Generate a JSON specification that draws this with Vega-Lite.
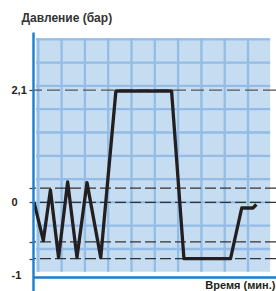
{
  "$schema": "https://vega.github.io/schema/vega-lite/v6.json",
  "width": 243,
  "height": 259,
  "autosize": {"type": "none"},
  "padding": {"left": 33, "top": 32, "right": 0, "bottom": 0},
  "background": "white",
  "config": {"view": {"stroke": null}},
  "layer": [
    {
      "data": {"values": [{"area": "grid"}]},
      "mark": {"type": "rect", "color": "#c6dcf1"},
      "encoding": {
        "x": {"datum": -0.1, "type": "quantitative", "title": "Время (мин.)"},
        "x2": {"datum": 9.95},
        "y": {"datum": 0.02, "type": "quantitative", "title": "Давление (бар)"},
        "y2": {"datum": 10.05}
      }
    },
    {
      "data": {"values": [{"k": 0}, {"k": 1}, {"k": 2}, {"k": 3}, {"k": 4}, {"k": 5}, {"k": 6}, {"k": 7}, {"k": 8}, {"k": 9}]},
      "mark": {"type": "rule", "color": "#93bde6", "strokeWidth": 2.3},
      "encoding": {
        "x": {"field": "k", "type": "quantitative", "title": "Время (мин.)"},
        "y": {"datum": 0.02, "type": "quantitative", "title": "Давление (бар)"},
        "y2": {"datum": 10.05}
      }
    },
    {
      "data": {"values": [{"k": 1}, {"k": 2}, {"k": 3}, {"k": 4}, {"k": 5}, {"k": 6}, {"k": 7}, {"k": 8}, {"k": 9}, {"k": 10}]},
      "mark": {"type": "rule", "color": "#93bde6", "strokeWidth": 2.3},
      "encoding": {
        "y": {"field": "k", "type": "quantitative", "title": "Давление (бар)"},
        "x": {"datum": -0.1, "type": "quantitative", "title": "Время (мин.)"},
        "x2": {"datum": 9.95}
      }
    },
    {
      "data": {"values": [{"lvl": 7.82}]},
      "mark": {"type": "rule", "color": "#555555", "strokeWidth": 1.3, "strokeDash": [13, 5]},
      "encoding": {
        "y": {"field": "lvl", "type": "quantitative", "title": "Давление (бар)"}
      }
    },
    {
      "data": {"values": [{"lvl": 3.61}, {"lvl": 3.0}, {"lvl": 1.31}, {"lvl": 0.59}]},
      "mark": {"type": "rule", "color": "#333333", "strokeWidth": 1.3, "strokeDash": [11, 4]},
      "encoding": {
        "y": {"field": "lvl", "type": "quantitative", "title": "Давление (бар)"}
      }
    },
    {
      "data": {"values": [
        {"t": -0.18, "p": 3.0},
        {"t": 0.215, "p": 1.36},
        {"t": 0.52, "p": 3.53},
        {"t": 0.87, "p": 0.63},
        {"t": 1.26, "p": 3.88},
        {"t": 1.66, "p": 0.63},
        {"t": 2.09, "p": 3.85},
        {"t": 2.68, "p": 0.63},
        {"t": 3.33, "p": 7.78},
        {"t": 5.72, "p": 7.78},
        {"t": 6.25, "p": 0.59},
        {"t": 8.25, "p": 0.59},
        {"t": 8.73, "p": 2.76},
        {"t": 9.21, "p": 2.76},
        {"t": 9.36, "p": 2.91}
      ]},
      "mark": {"type": "line", "color": "#231f20", "strokeWidth": 3.3, "strokeJoin": "round"},
      "encoding": {
        "x": {
          "field": "t", "type": "quantitative", "title": "Время (мин.)",
          "scale": {"domain": [-0.2275, 10.2017], "nice": false, "zero": false},
          "axis": {
            "orient": "bottom", "offset": -14, "zindex": 1,
            "domainColor": "#1b7fcf", "domainWidth": 2.6,
            "ticks": false, "labels": false, "grid": false,
            "titleX": 242, "titleY": 11, "titleAlign": "right", "titleBaseline": "alphabetic",
            "titleFont": "Liberation Sans", "titleFontSize": 11, "titleFontWeight": "bold", "titleColor": "#231f20"
          }
        },
        "y": {
          "field": "p", "type": "quantitative", "title": "Давление (бар)",
          "scale": {"domain": [-0.8026, 10.313], "nice": false, "zero": false},
          "axis": {
            "orient": "left", "zindex": 1,
            "values": [7.82, 3.61, 3.0, 1.31, 0.59, -0.15],
            "labelExpr": "datum.value > 7 ? '2,1' : (abs(datum.value - 3) < 0.01 ? '0' : (datum.value < 0 ? '-1' : ''))",
            "domainColor": "#1b7fcf", "domainWidth": 2.4,
            "tickSize": 4, "tickColor": "#444444", "tickWidth": 1.3,
            "tickOpacity": {"condition": {"test": "datum.value < 0", "value": 0}, "value": 1},
            "labelAlign": "left", "labelBaseline": "middle", "labelPadding": 18, "labelOverlap": false,
            "labelFont": "Liberation Sans", "labelFontSize": 11, "labelFontWeight": "bold", "labelColor": "#231f20",
            "grid": false,
            "titleAngle": 0, "titleX": -12, "titleY": -11, "titleAlign": "left", "titleBaseline": "alphabetic",
            "titleFont": "Liberation Sans", "titleFontSize": 12, "titleFontWeight": "bold", "titleColor": "#333333"
          }
        }
      }
    }
  ]
}
